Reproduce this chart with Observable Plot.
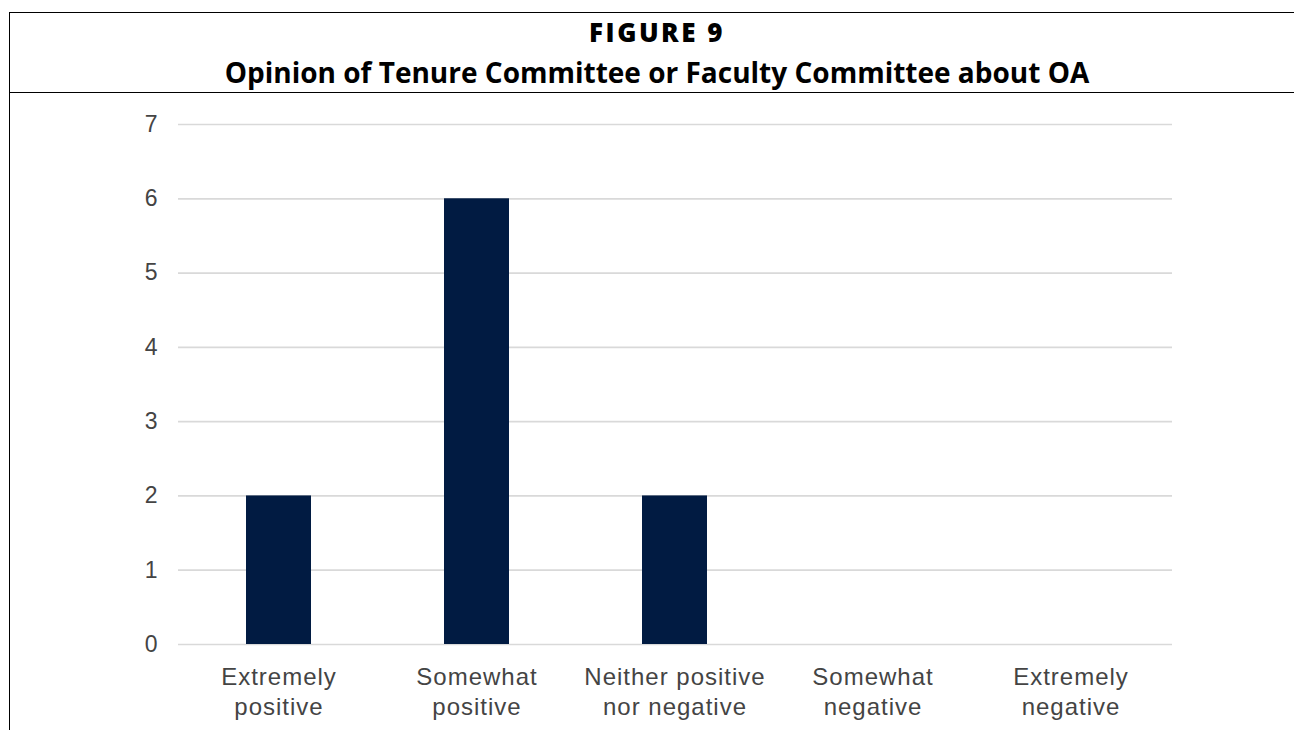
<!DOCTYPE html>
<html>
<head>
<meta charset="utf-8">
<script src="https://cdn.jsdelivr.net/npm/d3@7"></script>
<script src="https://cdn.jsdelivr.net/npm/@observablehq/plot@0.6"></script>
<style>
  html, body { margin: 0; padding: 0; background: #fff; width: 1294px; height: 730px; overflow: hidden; }
  #frame { position: absolute; left: 9px; top: 12px; width: 1300px; height: 730px;
           border-left: 1.5px solid #000; border-top: 1.5px solid #000; box-sizing: border-box; }
  #hdrline { position: absolute; left: 9px; top: 91.5px; width: 1300px; height: 0; border-top: 1.5px solid #000; }
  .t { position: absolute; left: 657px; transform: translateX(-50%); white-space: nowrap;
       font-family: "Open Sans", Lato, sans-serif; color: #000; line-height: 1; }
  #t1 { top: 19px; font-size: 26px; font-weight: 800; letter-spacing: 2.5px; }
  #t2 { top: 58px; font-size: 28px; font-weight: 700; }
  #chart { position: absolute; left: 0; top: 94px; }
  #chart svg text { font-family: "Liberation Sans", Arial, sans-serif; }
  #chart svg g.xax text { letter-spacing: 1px; }
</style>
</head>
<body>
<div id="frame"></div>
<div id="hdrline"></div>
<div class="t" id="t1">FIGURE 9</div>
<div class="t" id="t2">Opinion of Tenure Committee or Faculty Committee about OA</div>
<div id="chart"></div>
<script>
const categories = ["Extremely positive", "Somewhat positive", "Neither positive nor negative", "Somewhat negative", "Extremely negative"];
const tickLabels = ["Extremely\npositive", "Somewhat\npositive", "Neither positive\nnor negative", "Somewhat\nnegative", "Extremely\nnegative"];
const counts = [2, 6, 2, 0, 0];
const yTicks = [0, 1, 2, 3, 4, 5, 6, 7];

const data = categories.map((c, i) => ({category: c, count: counts[i]}));
const labelOf = new Map(categories.map((c, i) => [c, tickLabels[i]]));

const chart = Plot.plot({
  width: 1294,
  height: 636,
  marginTop: 30,
  marginBottom: 86,
  marginLeft: 178,
  marginRight: 122,
  style: {fontFamily: "Liberation Sans, Arial, sans-serif", background: "transparent"},
  x: {domain: categories, paddingInner: 0.67, paddingOuter: 0.335, label: null},
  y: {domain: [0, 7], label: null},
  marks: [
    Plot.ruleY(yTicks, {stroke: "#d9d9d9", strokeWidth: 1.7}),
    Plot.barY(data, {x: "category", y: "count", fill: "#011b42"}),
    Plot.axisY({ticks: yTicks, tickFormat: d3.format("d"), tickSize: 0, tickPadding: 21, fontSize: 23, fill: "#444", label: null}),
    Plot.axisX({tickSize: 0, tickPadding: 19, fontSize: 24, fill: "#444", lineHeight: 1.25, label: null,
                tickFormat: d => labelOf.get(d), className: "xax"})
  ]
});
document.getElementById("chart").appendChild(chart);
</script>
</body>
</html>
